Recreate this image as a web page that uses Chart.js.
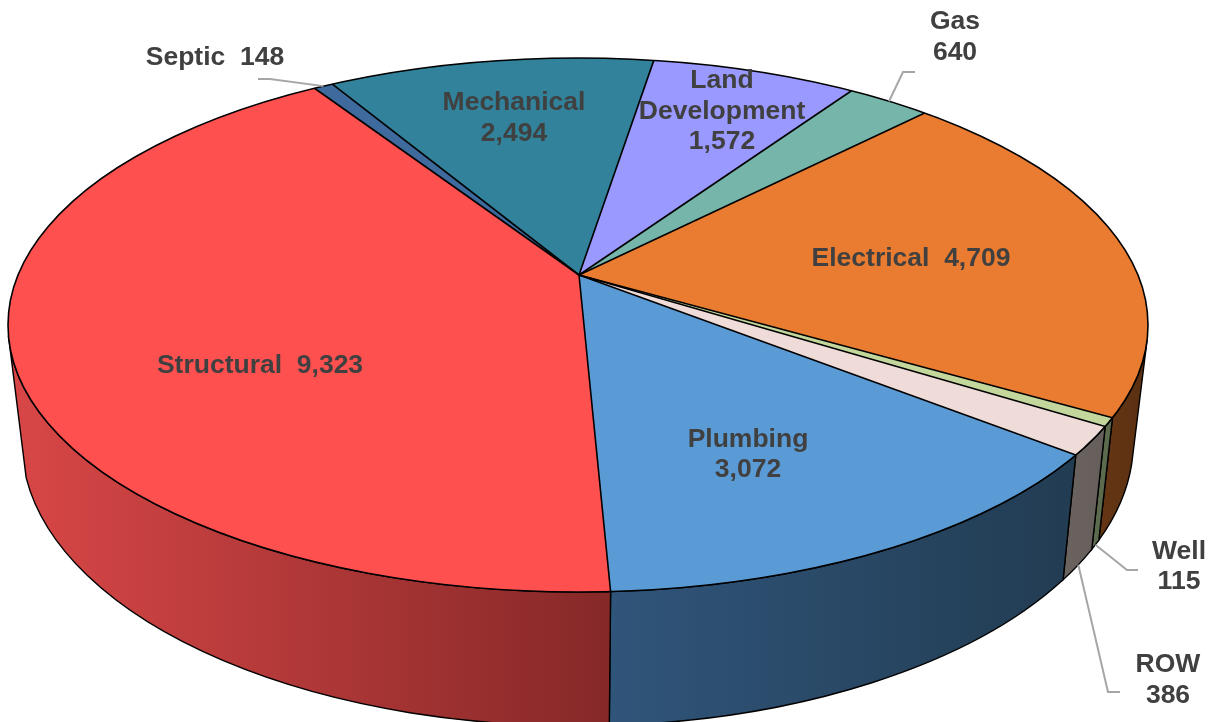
<!DOCTYPE html>
<html>
<head>
<meta charset="utf-8">
<title>Permits by trade</title>
<script src="https://cdn.jsdelivr.net/npm/chart.js@4"></script>
<style>
    html, body { margin: 0; padding: 0; background: #fff; }
    canvas { display: block; }
</style>
</head>
<body>
<canvas id="pieChart" width="1220" height="722"></canvas>
<script>
const categories = ['Septic', 'Mechanical', 'Land Development', 'Gas', 'Electrical', 'Well', 'ROW', 'Plumbing', 'Structural'];
const values = [148, 2494, 1572, 640, 4709, 115, 386, 3072, 9323];
const topColors = ['#3e6a9e', '#31829a', '#9999ff', '#76b5aa', '#e97c30', '#c3d69b', '#efdbd8', '#5b9bd5', '#ff5050'];
const wallColors = {
    Electrical: ['#653615', '#5a3011'],
    Well: ['#5c6b4e', '#5c6b4e'],
    ROW: ['#6b6360', '#655e5b'],
    Plumbing: ['#30557a', '#223c52'],
    Structural: ['#d94747', '#862828']
};

// text lines and where they sit, centre of each line
const labels = [
    { lines: ['Septic  148'], x: 215, y: [58] },
    { lines: ['Mechanical', '2,494'], x: 514, y: [103, 134] },
    { lines: ['Land', 'Development', '1,572'], x: 722, y: [81, 112, 142] },
    { lines: ['Gas', '640'], x: 955, y: [22, 53] },
    { lines: ['Electrical  4,709'], x: 911, y: [259] },
    { lines: ['Well', '115'], x: 1179, y: [552, 582] },
    { lines: ['ROW', '386'], x: 1168, y: [665, 696] },
    { lines: ['Plumbing', '3,072'], x: 748, y: [440, 470] },
    { lines: ['Structural  9,323'], x: 260, y: [366] }
];

// leader lines start on the rim of their slice
const leaders = [
    { name: 'Septic', rim: 'top', path: [[270, 79], [258, 79]] },
    { name: 'Gas', rim: 'top', path: [[903, 72], [915, 72]] },
    { name: 'Well', rim: 'bottom', path: [[1127, 570], [1138, 570]] },
    { name: 'ROW', rim: 'bottom', path: [[1108, 692], [1120, 692]] }
];

// the perspective: slices fan out of the apex, which is above the centre of the top ellipse
const apex = { x: 579, y: 275 };
const topRim = { cx: 578, cy: 325, rx: 570, ry: 267 };
const bottomRim = { cx: 577.5, cy: 441, rx: 556, ry: 285 };
const squash = 0.462;
const stretch = 2.2;
const visible = { topFrom: 0.056, topTo: Math.PI - 0.04, bottomFrom: 0.08, bottomTo: Math.PI - 0.13 };

function rimAngle(angle) {
    const dx = Math.cos(angle);
    const dy = Math.sin(angle) * squash;
    const ox = (apex.x - topRim.cx) / topRim.rx;
    const oy = (apex.y - topRim.cy) / topRim.ry;
    const ux = dx / topRim.rx;
    const uy = dy / topRim.ry;
    const a = ux * ux + uy * uy;
    const b = 2 * (ox * ux + oy * uy);
    const c = ox * ox + oy * oy - 1;
    const r = (-b + Math.sqrt(b * b - 4 * a * c)) / (2 * a);
    return Math.atan2(oy + r * uy, ox + r * ux);
}

function rimPoint(rim, t) {
    return [rim.cx + rim.rx * Math.cos(t), rim.cy + rim.ry * Math.sin(t)];
}

function sliceRange(arc) {
    const from = rimAngle(arc.startAngle);
    let to = rimAngle(arc.endAngle);
    if (to < from) to += Math.PI * 2;
    return [from, to];
}

function drawWall(ctx, arc, colors) {
    const [from, to] = sliceRange(arc);
    const start = Math.max(from, visible.topFrom);
    const end = Math.min(to, visible.topTo);
    const bottomStart = from < visible.topFrom ? visible.bottomFrom : from;
    const bottomEnd = to > visible.topTo ? visible.bottomTo : to;

    ctx.beginPath();
    ctx.ellipse(topRim.cx, topRim.cy, topRim.rx, topRim.ry, 0, start, end);
    ctx.ellipse(bottomRim.cx, bottomRim.cy, bottomRim.rx, bottomRim.ry, 0, bottomEnd, bottomStart, true);
    ctx.closePath();

    const leftX = rimPoint(bottomRim, bottomEnd)[0];
    const rightX = rimPoint(topRim, start)[0];
    const gradient = ctx.createLinearGradient(Math.min(leftX, topRim.cx + topRim.rx * Math.cos(end)), 0, rightX, 0);
    gradient.addColorStop(0, colors[0]);
    gradient.addColorStop(1, colors[1]);
    ctx.fillStyle = gradient;
    ctx.fill();
    ctx.strokeStyle = '#000';
    ctx.lineWidth = 1.4;
    ctx.stroke();
}

const piePerspective = {
    id: 'piePerspective',
    beforeDatasetsDraw(chart) {
        const ctx = chart.ctx;
        const arcs = chart.getDatasetMeta(0).data;

        ctx.save();
        arcs.forEach((arc, i) => {
            if (wallColors[categories[i]]) drawWall(ctx, arc, wallColors[categories[i]]);
        });
        ctx.restore();

        // the library draws the slices, squeezed around the apex and cut by the top ellipse
        ctx.save();
        ctx.beginPath();
        ctx.ellipse(topRim.cx, topRim.cy, topRim.rx, topRim.ry, 0, 0, Math.PI * 2);
        ctx.clip();
        ctx.translate(apex.x, apex.y);
        ctx.scale(stretch, stretch * squash);
        ctx.translate(-arcs[0].x, -arcs[0].y);
    },
    afterDatasetsDraw(chart) {
        const ctx = chart.ctx;
        const arcs = chart.getDatasetMeta(0).data;
        ctx.restore();

        // spokes and rim
        ctx.strokeStyle = '#000';
        ctx.lineWidth = 1.6;
        arcs.forEach(arc => {
            const p = rimPoint(topRim, rimAngle(arc.startAngle));
            ctx.beginPath();
            ctx.moveTo(apex.x, apex.y);
            ctx.lineTo(p[0], p[1]);
            ctx.stroke();
        });
        ctx.beginPath();
        ctx.ellipse(topRim.cx, topRim.cy, topRim.rx, topRim.ry, 0, 0, Math.PI * 2);
        ctx.stroke();

        // leader lines
        ctx.strokeStyle = '#a6a6a6';
        ctx.lineWidth = 2;
        leaders.forEach(leader => {
            const arc = arcs[categories.indexOf(leader.name)];
            const [from, to] = sliceRange(arc);
            const start = rimPoint(leader.rim === 'top' ? topRim : bottomRim, (from + to) / 2);
            ctx.beginPath();
            ctx.moveTo(start[0], start[1]);
            leader.path.forEach(p => ctx.lineTo(p[0], p[1]));
            ctx.stroke();
        });

        // labels
        ctx.fillStyle = '#404040';
        ctx.font = 'bold 26.5px "Liberation Sans", Arial, sans-serif';
        ctx.textAlign = 'center';
        ctx.textBaseline = 'middle';
        labels.forEach(label => {
            label.lines.forEach((line, i) => ctx.fillText(line, label.x, label.y[i]));
        });
    }
};

new Chart(document.getElementById('pieChart').getContext('2d'), {
    type: 'pie',
    data: {
        labels: categories,
        datasets: [{
            data: values,
            backgroundColor: topColors,
            borderWidth: 0,
            clip: false
        }]
    },
    options: {
        responsive: false,
        animation: false,
        rotation: -33.2,
        plugins: {
            legend: { display: false },
            tooltip: { enabled: false }
        }
    },
    plugins: [piePerspective]
});
</script>
</body>
</html>
